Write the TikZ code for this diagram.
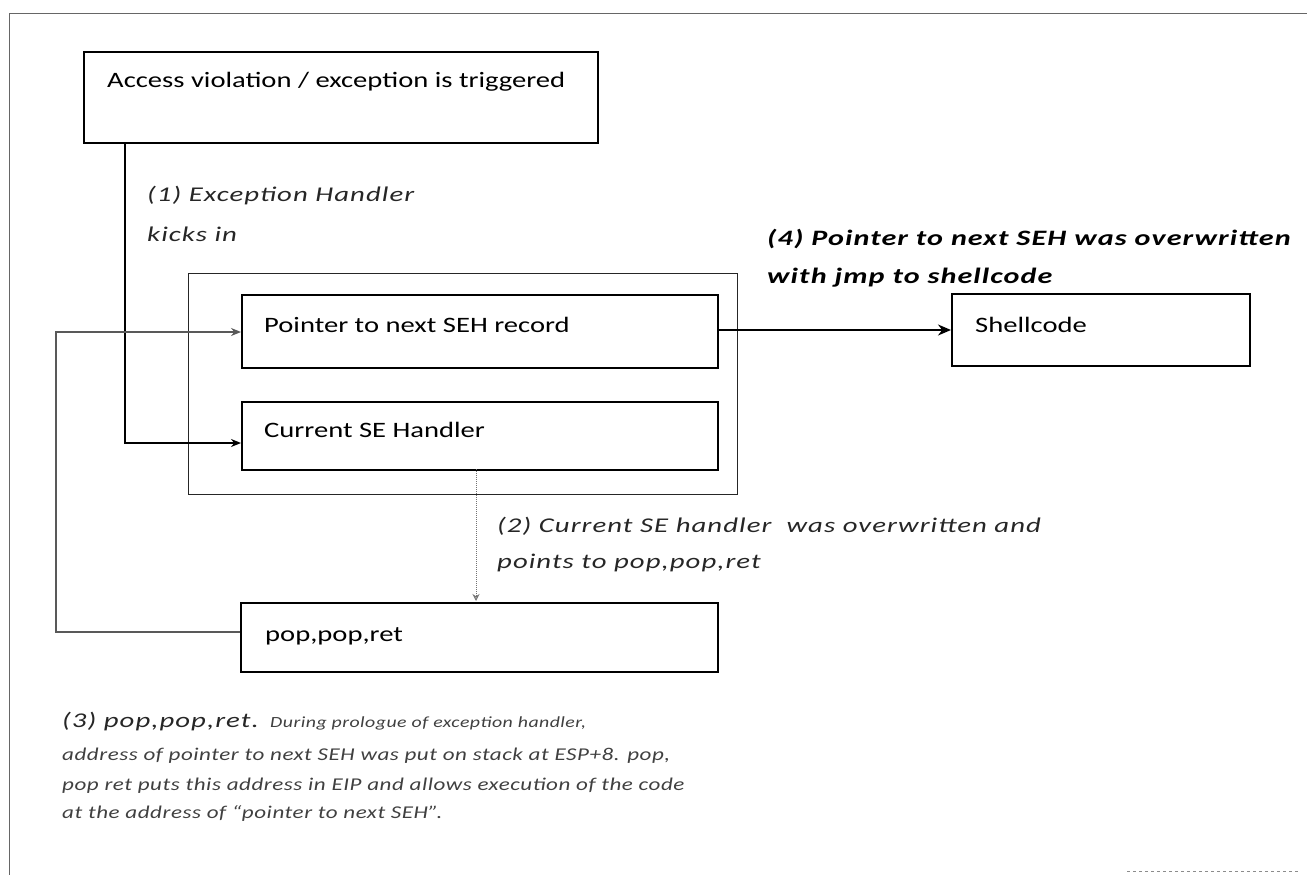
\documentclass[tikz,border=0pt]{standalone}
\usepackage{fontspec}
\setmainfont{Carlito}[FakeStretch=1.3]
\newfontfamily\notefont{Carlito}[FakeStretch=1.37, LetterSpace=5]
\newfontfamily\smallnotefont{Carlito}[FakeStretch=1.28, LetterSpace=3]
\usetikzlibrary{arrows.meta,calc}

\begin{document}
\begin{tikzpicture}[x=1pt,y=-1pt,
  box/.style={draw=black, line width=1.6pt, inner sep=0pt, anchor=north west},
  frame/.style={draw=black!85, line width=1.4pt, inner sep=0pt, anchor=north west},
  boxtext/.style={anchor=base west, inner sep=0pt, font=\fontsize{22}{26}\selectfont},
  note/.style={anchor=base west, inner sep=0pt, text=black!85,
    font=\notefont\itshape\fontsize{21}{24}\selectfont},
  boldnote/.style={anchor=base west, inner sep=0pt, text=black,
    font=\notefont\bfseries\itshape\fontsize{22}{26}\selectfont},
  smallnote/.style={anchor=base west, inner sep=0pt, text=black!75,
    font=\smallnotefont\itshape\fontsize{18}{22}\selectfont},
  flow/.style={draw=black, line width=2pt},
  back/.style={draw=black!65, line width=1.3pt},
  tip/.style={-{Stealth[length=10pt,width=8pt]}},
]
\useasboundingbox (0,0) rectangle (1307,875);

% page edge
\draw[black!60, line width=1pt] (9,875) -- (9,14) -- (1307,14);
\draw[black!45, line width=0.8pt, dashed] (1127,871) -- (1300,871);

% boxes
\node[box, minimum width=514pt, minimum height=91pt] (trig) at (83,51) {};
\node[frame, minimum width=549pt, minimum height=221pt] (rec) at (188,273) {};
\node[box, minimum width=476pt, minimum height=73pt] (nseh) at (241,294) {};
\node[box, minimum width=476pt, minimum height=68pt] (seh) at (241,401) {};
\node[box, minimum width=298pt, minimum height=72pt] (shell) at (951,293) {};
\node[box, minimum width=477pt, minimum height=69pt] (ppr) at (240,602) {};

% box texts
\node[boxtext] (trigT) at (107,88) {Access violation / exception is triggered};
\node[boxtext] (nsehT) at (264,332) {Pointer to next SEH record};
\node[boxtext] (sehT) at (264,437) {Current SE Handler};
\node[boxtext] (shellT) at (975,332) {Shellcode};
\node[boxtext] (pprT) at (265,641) {pop,pop,ret};

% connector anchors
\coordinate (drop) at ($(trig.south west)+(42,0)$);
\coordinate (nsehIn) at (241,332);
\coordinate (sehIn) at (241,443);
\coordinate (nsehOut) at (717,330);
\coordinate (shellIn) at (951,330);
\coordinate (pprOut) at (240,632);
\coordinate (loopX) at (56,632);
\coordinate (sehDown) at (476,469);
\coordinate (pprIn) at (476,601);

% (1) exception handler kicks in
\draw[flow, tip] (drop) |- (sehIn);
% (3) pop,pop,ret returns to the next SEH record
\draw[back, tip] (pprOut) -- (loopX) |- (nsehIn);
% (4) jump to shellcode
\draw[draw=black, line width=2.6pt, -{Stealth[length=13pt,width=11pt]}] (nsehOut) -- (shellIn);
% (2) handler points to pop,pop,ret
\draw[black!55, line width=1pt, densely dotted, -{Stealth[open,length=7pt,width=7pt]}] (sehDown) -- (pprIn);

% labels
\node[note] (l1a) at (147,201) {(1) Exception Handler};
\node[note] (l1b) at (147,241) {kicks in};
\node[boldnote] (l4a) at (767,245) {(4) Pointer to next SEH was overwritten};
\node[boldnote] (l4b) at (767,283) {with jmp to shellcode};
\node[note] (l2a) at (497,532) {(2) Current SE handler\ \ was overwritten and};
\node[note] (l2b) at (497,568) {points to pop,pop,ret};
\node[note] (l3a) at (62,727) {(3) pop,pop,ret.};
\node[smallnote, anchor=base west, font=\smallnotefont\itshape\fontsize{15.5}{19}\selectfont]
  (l3e) at ([xshift=11pt]l3a.base east) {During prologue of exception handler,};
\node[smallnote] (l3b) at (62,760) {address of pointer to next SEH was put on stack at ESP+8. pop,};
\node[smallnote] (l3c) at (62,790) {pop ret puts this address in EIP and allows execution of the code};
\node[smallnote] (l3d) at (62,818) {at the address of “pointer to next SEH”.};
\end{tikzpicture}
\end{document}
